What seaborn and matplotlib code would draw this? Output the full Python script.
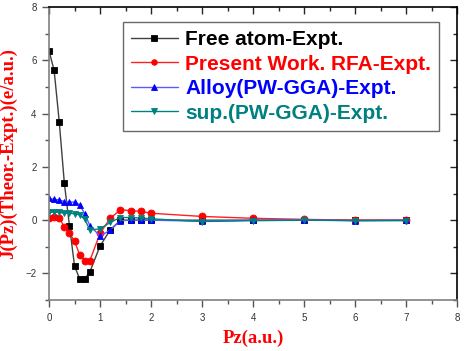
import numpy as np
import pandas as pd
import matplotlib
matplotlib.use("Agg")
import matplotlib.pyplot as plt
from matplotlib.ticker import MultipleLocator
import seaborn as sns

# ------------------------------------------------------------
# Data (difference profiles, Theor.-Expt.)
# ------------------------------------------------------------
PZ = [0.0, 0.1, 0.2, 0.3, 0.4, 0.5, 0.6, 0.7, 0.8, 1.0,
      1.2, 1.4, 1.6, 1.8, 2.0, 3.0, 4.0, 5.0, 6.0, 7.0]

FREE_ATOM = [6.35, 5.62, 3.70, 1.39, -0.20, -1.72, -2.20, -2.20, -1.94, -0.97,
             -0.36, 0.00, 0.00, 0.00, 0.00, 0.00, 0.00, 0.00, 0.00, 0.00]
PRESENT_RFA = [0.07, 0.12, 0.10, -0.26, -0.49, -0.78, -1.30, -1.52, -1.52, -0.49,
               0.07, 0.39, 0.36, 0.33, 0.26, 0.14, 0.07, 0.03, 0.00, 0.00]
ALLOY_GGA = [0.82, 0.78, 0.76, 0.70, 0.68, 0.68, 0.58, 0.24, -0.20, -0.60,
             -0.37, -0.02, 0.00, 0.00, 0.00, -0.04, 0.00, 0.02, -0.02, 0.00]
SUP_GGA = [0.30, 0.30, 0.29, 0.27, 0.26, 0.24, 0.20, 0.03, -0.36, -0.33,
           -0.08, 0.10, 0.10, 0.08, 0.05, -0.05, -0.02, 0.00, -0.02, -0.02]

LABELS = ["Free atom-Expt.", "Present Work. RFA-Expt.",
          "Alloy(PW-GGA)-Expt.", "sup.(PW-GGA)-Expt."]

STYLE = {
    "Free atom-Expt.": ("#404040", "#000000", "s"),
    "Present Work. RFA-Expt.": ("#ff2020", "#ff0000", "o"),
    "Alloy(PW-GGA)-Expt.": ("#5a5aff", "#0000ff", "^"),
    "sup.(PW-GGA)-Expt.": ("#008080", "#008080", "v"),
}
TEXT_COLORS = ["#000000", "#ff0000", "#0000ff", "#008080"]


def main():
    sns.set_theme(style="ticks")
    plt.rcParams["font.family"] = ["Liberation Sans", "DejaVu Sans"]

    df = pd.DataFrame({
        "Pz": PZ * 4,
        "J": FREE_ATOM + PRESENT_RFA + ALLOY_GGA + SUP_GGA,
        "Series": np.repeat(LABELS, len(PZ)),
    })

    fig = plt.figure(figsize=(4.67, 3.51), dpi=100)
    ax = fig.add_axes([0.105, 0.145, 0.874, 0.835])

    for name in LABELS:
        sub = df[df["Series"] == name]
        lc, mc, mk = STYLE[name]
        sns.lineplot(
            data=sub, x="Pz", y="J", ax=ax,
            color=lc, marker=mk, markersize=5,
            markerfacecolor=mc, markeredgecolor=mc, markeredgewidth=0.6,
            linewidth=1.0, label=name, sort=False,
        )

    ax.set_xlim(0, 8)
    ax.set_ylim(-3, 8)
    ax.xaxis.set_major_locator(MultipleLocator(1))
    ax.xaxis.set_minor_locator(MultipleLocator(0.5))
    ax.yaxis.set_major_locator(MultipleLocator(2))
    ax.yaxis.set_minor_locator(MultipleLocator(1))

    for side in ["left", "bottom"]:
        ax.spines[side].set_color("#808080")
        ax.spines[side].set_linewidth(1.2)
    for side in ["top", "right"]:
        ax.spines[side].set_color("#000000")
        ax.spines[side].set_linewidth(1.2)

    ax.tick_params(axis="both", which="major", direction="out", length=5, width=1,
                   color="#555555", labelsize=7, labelcolor="#333333", pad=4)
    ax.tick_params(axis="both", which="minor", direction="out", length=3, width=1,
                   color="#555555")
    # inward ticks on the top/right frame
    ax_top = ax.secondary_xaxis("top")
    ax_top.xaxis.set_major_locator(MultipleLocator(1))
    ax_top.xaxis.set_minor_locator(MultipleLocator(0.5))
    ax_top.tick_params(which="major", direction="in", length=5, width=1, labeltop=False)
    ax_top.tick_params(which="minor", direction="in", length=3, width=1)
    ax_top.spines["top"].set_visible(False)
    ax_right = ax.secondary_yaxis("right")
    ax_right.yaxis.set_major_locator(MultipleLocator(2))
    ax_right.yaxis.set_minor_locator(MultipleLocator(1))
    ax_right.tick_params(which="major", direction="in", length=5, width=1, labelright=False)
    ax_right.tick_params(which="minor", direction="in", length=3, width=1)
    ax_right.spines["right"].set_visible(False)

    ax.set_xlabel("Pz(a.u.)", fontsize=13.5, fontweight="bold", color="#ff0000",
                  family=["Liberation Serif", "DejaVu Serif"], labelpad=5)
    ax.set_ylabel("J(Pz)(Theor.-Expt.)(e/a.u.)", fontsize=13.5, fontweight="bold",
                  color="#ff0000", family=["Liberation Serif", "DejaVu Serif"], labelpad=6)

    leg = ax.legend(
        loc="upper right", bbox_to_anchor=(0.956, 0.949),
        frameon=True, fancybox=False, edgecolor="#444444",
        prop={"size": 15, "weight": "bold"},
        handlelength=2.25, handletextpad=0.35, labelspacing=0.26,
        borderpad=0.4, borderaxespad=0, markerscale=0.8,
    )
    leg.get_frame().set_linewidth(1.0)
    for txt, c in zip(leg.get_texts(), TEXT_COLORS):
        txt.set_color(c)

    fig.savefig("out.png", dpi=100)
    plt.close(fig)


if __name__ == "__main__":
    main()
